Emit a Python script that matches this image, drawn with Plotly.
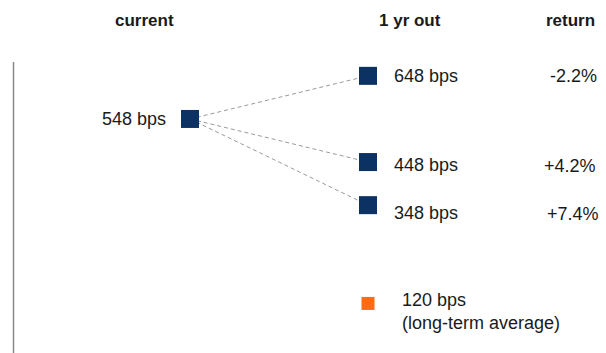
import plotly.graph_objects as go

# ---- data ----
stages = ["current", "1 yr out"]
current_bps = 548
future_bps = [648, 448, 348]
returns = ["-2.2%", "+4.2%", "+7.4%"]
lt_avg_bps = 120
lt_avg_label = "(long-term average)"
headers = ["current", "1 yr out", "return"]

NAVY = "#0b3263"
ORANGE = "#ff6a13"
TXT = "#1a1a1a"
FONT = "Liberation Sans, Arial, sans-serif"

W, H = 606, 353
x_cur, x_fut = 0, 1

fig = go.Figure()

# dashed connectors
for v in future_bps:
    fig.add_trace(go.Scatter(
        x=[x_cur, x_fut], y=[current_bps, v], mode="lines",
        line=dict(color="#9a9a9a", width=1, dash="4px,3px"),
        hoverinfo="skip", showlegend=False))

# squares
fig.add_trace(go.Scatter(
    x=[x_cur] + [x_fut] * len(future_bps), y=[current_bps] + future_bps,
    mode="markers", marker=dict(symbol="square", size=18, color=NAVY, line=dict(width=0)),
    showlegend=False, hoverinfo="skip"))
fig.add_trace(go.Scatter(
    x=[x_fut], y=[lt_avg_bps], mode="markers",
    marker=dict(symbol="square", size=13, color=ORANGE, line=dict(width=0)),
    showlegend=False, hoverinfo="skip"))

ann = []
font = dict(family=FONT, size=18, color=TXT)
ann.append(dict(x=x_cur, y=current_bps, text=f"{current_bps} bps", xanchor="right",
                yanchor="middle", xshift=-22, showarrow=False, font=font))
yshifts = [0, -3, -8]
ret_shift = [-7, -8, -5]
for v, r, ys, rs in zip(future_bps, returns, yshifts, ret_shift):
    ann.append(dict(x=x_fut, y=v, text=f"{v} bps", xanchor="left", yanchor="middle",
                    xshift=24, yshift=ys, showarrow=False, font=font))
    ann.append(dict(x=1, xref="paper", y=v, text=r, xanchor="right", yanchor="middle",
                    xshift=rs, yshift=ys - (1 if ys else 0), showarrow=False, font=font))
ann.append(dict(x=x_fut, y=lt_avg_bps, text=f"{lt_avg_bps} bps<br>{lt_avg_label}",
                xanchor="left", yanchor="middle", align="left", xshift=32, yshift=-8,
                showarrow=False, font=font))

hdr_x = [144, 410, 570]
for t, hx in zip(headers, hdr_x):
    ann.append(dict(x=hx / W, xref="paper", y=1 - 20 / H, yref="paper", text=f"<b>{t}</b>",
                    xanchor="center", yanchor="middle", showarrow=False,
                    font=dict(family=FONT, size=17, color=TXT)))

fig.update_layout(
    width=W, height=H, margin=dict(l=0, r=0, t=0, b=0),
    paper_bgcolor="white", plot_bgcolor="white",
    xaxis=dict(range=[-190 / 178, (W - 190) / 178], visible=False, fixedrange=True),
    yaxis=dict(range=[5, 824], visible=False, fixedrange=True),
    annotations=ann,
    shapes=[dict(type="line", xref="paper", yref="paper", x0=13.5 / W, x1=13.5 / W,
                 y0=0, y1=1 - 62 / H, line=dict(color="#8a8a8a", width=1.5))],
)

fig.write_html("out.html")
